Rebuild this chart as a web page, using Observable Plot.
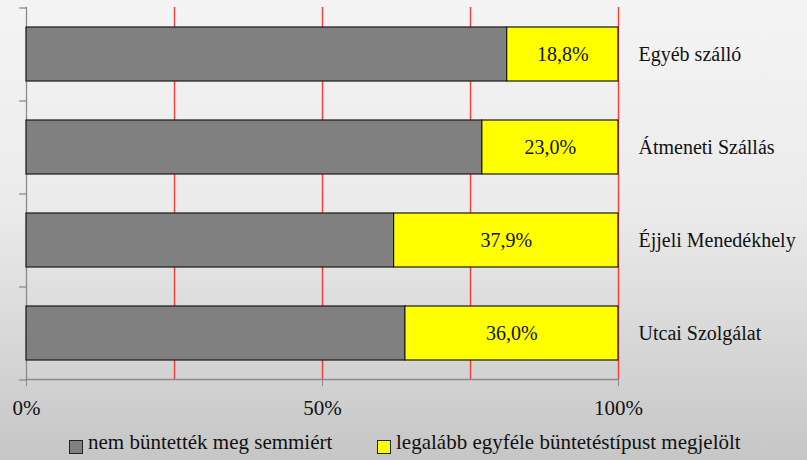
<!DOCTYPE html>
<html>
<head>
<meta charset="utf-8">
<script src="https://cdn.jsdelivr.net/npm/d3@7"></script>
<script src="https://cdn.jsdelivr.net/npm/@observablehq/plot@0.6"></script>
<style>
  html, body { margin: 0; padding: 0; }
  body {
    width: 807px; height: 460px; overflow: hidden; position: relative;
    background: linear-gradient(to bottom, #f4f4f4 0%, #ebebeb 45%, #c6c6c6 100%);
    color: #111;
  }
  #legend { position: absolute; left: 0; top: 430px; width: 807px; height: 24px; font-size: 21px; }
  .sw { position: absolute; top: 10px; width: 12px; height: 12px; border: 1px solid #222; }
  .lt { position: absolute; top: 0px; white-space: nowrap; line-height: 24px; }
</style>
</head>
<body style="font-family:'Liberation Serif'">
<div id="chart"></div>
<div id="legend" style="font-family:'Liberation Serif'"></div>
<script>
const categories = ["Egyéb szálló", "Átmeneti Szállás", "Éjjeli Menedékhely", "Utcai Szolgálat"];
const series = ["nem büntették meg semmiért", "legalább egyféle büntetéstípust megjelölt"];
const notPunished = [81.2, 77.0, 62.1, 64.0];
const punished = [18.8, 23.0, 37.9, 36.0];
const colors = ["#808080", "#ffff00"];
const xTicks = [0, 50, 100];
const gridLines = [25, 50, 75, 100];

const rows = [];
categories.forEach((c, i) => {
  rows.push({cat: c, series: series[0], value: notPunished[i]});
  rows.push({cat: c, series: series[1], value: punished[i]});
});
const labels = categories.map((c, i) => ({
  cat: c, mid: notPunished[i] + punished[i] / 2,
  text: punished[i].toFixed(1).replace(".", ",") + "%"
}));

const plot = Plot.plot({
  width: 807, height: 420,
  marginLeft: 26, marginRight: 189, marginTop: 7, marginBottom: 41,
  style: {background: "transparent", fontFamily: "Liberation Serif", fontSize: "20px", color: "#111", overflow: "visible"},
  x: {domain: [0, 100], label: null},
  y: {domain: categories, paddingInner: 0.42, paddingOuter: 0.21, axis: null},
  color: {domain: series, range: colors},
  marks: [
    Plot.ruleX(gridLines, {stroke: "#ff3838", strokeWidth: 1.4}),
    Plot.frame({anchor: "left", stroke: "#8a8a8a", strokeWidth: 1.3}),
    Plot.frame({anchor: "bottom", stroke: "#8a8a8a", strokeWidth: 1.3}),
    Plot.ruleY(categories, {y: d => d, x1: -1.15, x2: 0, dy: -46.5, stroke: "#8a8a8a", strokeWidth: 1.3}),
    Plot.ruleY(categories.slice(-1), {y: d => d, x1: -1.15, x2: 0, dy: 46.5, stroke: "#8a8a8a", strokeWidth: 1.3}),
    Plot.barX(rows, Plot.stackX({y: "cat", x: "value", fill: "series", stroke: "#1a1a1a", strokeWidth: 1.2})),
    Plot.text(labels, {x: "mid", y: "cat", text: "text", fill: "#111", fontSize: 20, fontFamily: "Liberation Serif"}),
    Plot.text(categories, {x: 100, y: d => d, text: d => d, dx: 20, textAnchor: "start", fill: "#111", fontSize: 20, fontFamily: "Liberation Serif"}),
    Plot.axisX({ticks: xTicks, tickFormat: d => d + "%", tickSize: 7, tickPadding: 14, stroke: "#8a8a8a", fill: "#111", fontSize: 21, fontFamily: "Liberation Serif"})
  ]
});
document.getElementById("chart").appendChild(plot);

const legend = document.getElementById("legend");
const legendX = [69, 377];
series.forEach((s, i) => {
  const sw = document.createElement("span");
  sw.className = "sw";
  sw.style.left = legendX[i] + "px";
  sw.style.background = colors[i];
  legend.appendChild(sw);
  const t = document.createElement("span");
  t.className = "lt";
  t.style.left = (legendX[i] + 19) + "px";
  t.style.fontFamily = "'Liberation Serif'";
  t.textContent = s;
  legend.appendChild(t);
});
</script>
</body>
</html>
